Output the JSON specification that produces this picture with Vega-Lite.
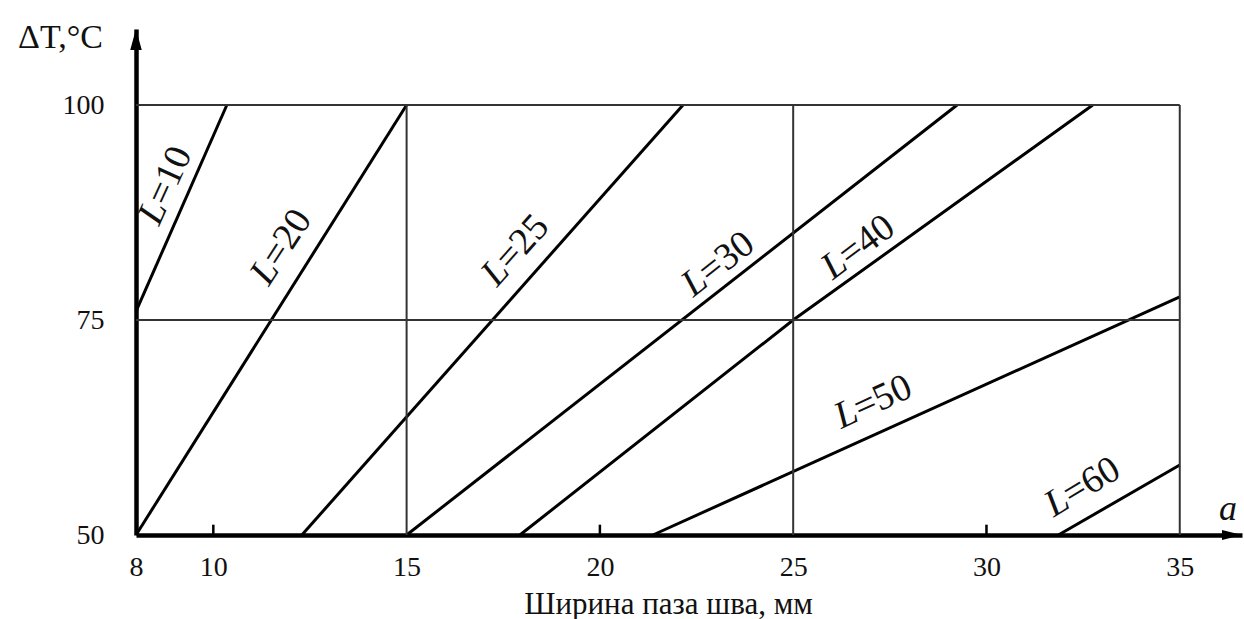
{
  "$schema": "https://vega.github.io/schema/vega-lite/v6.json",
  "width": 1106,
  "height": 506,
  "autosize": "none",
  "padding": {"left": 136, "top": 29, "right": 2, "bottom": 84},
  "background": "white",
  "config": {"view": {"stroke": null}, "font": "Liberation Serif"},
  "datasets": {
    "curves": [
      {"L": 10, "a": 8, "dT": 76},
      {"L": 10, "a": 10.35, "dT": 100},
      {"L": 20, "a": 8, "dT": 50},
      {"L": 20, "a": 15, "dT": 100},
      {"L": 25, "a": 12.29, "dT": 50},
      {"L": 25, "a": 22.15, "dT": 100},
      {"L": 30, "a": 15, "dT": 50},
      {"L": 30, "a": 29.24, "dT": 100},
      {"L": 40, "a": 17.93, "dT": 50},
      {"L": 40, "a": 25, "dT": 75},
      {"L": 40, "a": 32.75, "dT": 100},
      {"L": 50, "a": 21.37, "dT": 50},
      {"L": 50, "a": 35, "dT": 77.7},
      {"L": 60, "a": 31.86, "dT": 50},
      {"L": 60, "a": 35, "dT": 58.14}
    ],
    "labels": [
      {"L": 10, "a": 8.56, "dT": 88.6, "tail": "=10"},
      {"L": 20, "a": 11.49, "dT": 81.6, "tail": "=20"},
      {"L": 25, "a": 17.49, "dT": 81.4, "tail": "=25"},
      {"L": 30, "a": 22.67, "dT": 80.1, "tail": "=30"},
      {"L": 40, "a": 26.29, "dT": 82.1, "tail": "=40"},
      {"L": 50, "a": 26.62, "dT": 64.5, "tail": "=50"},
      {"L": 60, "a": 32.06, "dT": 54.4, "tail": "=60"}
    ],
    "hgrid": [{"dT": 75}, {"dT": 100}],
    "vgrid": [{"a": 15}, {"a": 25}, {"a": 35}],
    "ticks": [{"a": 10}, {"a": 20}, {"a": 30}],
    "arrowY": [{"a": 8, "dT": 108.84}],
    "arrowX": [{"a": 36.61, "dT": 50}],
    "axisName": [{"a": 36.25, "dT": 51.74, "name": "a"}]
  },
  "layer": [
    {
      "data": {"name": "curves"},
      "mark": {"type": "line", "color": "black", "strokeWidth": 3},
      "encoding": {
        "x": {
          "field": "a", "type": "quantitative",
          "scale": {"domain": [8, 36.61], "nice": false, "zero": false},
          "axis": {
            "values": [8, 10, 15, 20, 25, 30, 35],
            "ticks": false, "grid": false,
            "domain": true, "domainColor": "black", "domainWidth": 4.5,
            "labelFont": "Liberation Serif", "labelFontSize": 28, "labelColor": "#111111",
            "labelPadding": 18, "labelFlush": false, "labelOverlap": false,
            "title": "Ширина паза шва, мм",
            "titleFont": "Liberation Serif", "titleFontSize": 31, "titleFontWeight": "normal", "titleColor": "#111111",
            "titleX": 532, "titleY": 78, "titleBaseline": "alphabetic", "titleAlign": "center"
          }
        },
        "y": {
          "field": "dT", "type": "quantitative",
          "scale": {"domain": [50, 108.84], "nice": false, "zero": false},
          "axis": {
            "values": [50, 75, 100],
            "ticks": false, "grid": false,
            "domain": true, "domainColor": "black", "domainWidth": 4.5,
            "labelFont": "Liberation Serif", "labelFontSize": 28, "labelColor": "#111111",
            "labelPadding": 32, "labelOverlap": false, "labelFlush": false,
            "title": "ΔT,°C",
            "titleFont": "Liberation Serif", "titleFontSize": 34, "titleFontWeight": "normal", "titleColor": "#111111",
            "titleAngle": 0, "titleX": -76, "titleY": 18, "titleBaseline": "alphabetic", "titleAlign": "center"
          }
        },
        "detail": {"field": "L", "type": "nominal"}
      }
    },
    {
      "data": {"name": "hgrid"},
      "mark": {"type": "rule", "color": "#333333", "strokeWidth": 2},
      "encoding": {
        "x": {"datum": 8, "type": "quantitative"},
        "x2": {"datum": 35},
        "y": {"field": "dT", "type": "quantitative"}
      }
    },
    {
      "data": {"name": "vgrid"},
      "mark": {"type": "rule", "color": "#333333", "strokeWidth": 2},
      "encoding": {
        "x": {"field": "a", "type": "quantitative"},
        "y": {"datum": 50, "type": "quantitative"},
        "y2": {"datum": 100}
      }
    },
    {
      "data": {"name": "ticks"},
      "mark": {"type": "rule", "color": "black", "strokeWidth": 2.5},
      "encoding": {
        "x": {"field": "a", "type": "quantitative"},
        "y": {"datum": 50, "type": "quantitative"},
        "y2": {"datum": 51.2}
      }
    },
    {
      "data": {"name": "labels"},
      "mark": {"type": "text", "font": "Liberation Serif", "fontStyle": "italic", "fontSize": 38, "align": "right", "baseline": "middle", "color": "#111111"},
      "encoding": {
        "x": {"field": "a", "type": "quantitative"},
        "y": {"field": "dT", "type": "quantitative"},
        "text": {"value": "L"},
        "angle": {"field": "L", "type": "quantitative", "scale": {"domain": [10, 20, 25, 30, 40, 50, 60], "range": [-65.5, -57, -48.5, -38, -37, -24.6, -31], "zero": false}, "legend": null}
      }
    },
    {
      "data": {"name": "labels"},
      "mark": {"type": "text", "font": "Liberation Serif", "fontSize": 38, "align": "left", "baseline": "middle", "color": "#111111"},
      "encoding": {
        "x": {"field": "a", "type": "quantitative"},
        "y": {"field": "dT", "type": "quantitative"},
        "text": {"field": "tail"},
        "angle": {"field": "L", "type": "quantitative", "scale": {"domain": [10, 20, 25, 30, 40, 50, 60], "range": [-65.5, -57, -48.5, -38, -37, -24.6, -31], "zero": false}, "legend": null}
      }
    },
    {
      "data": {"name": "arrowY"},
      "mark": {"type": "point", "shape": "M0,0L-0.55,2L0.55,2Z", "filled": true, "color": "black", "opacity": 1, "size": 441, "strokeWidth": 0},
      "encoding": {
        "x": {"field": "a", "type": "quantitative"},
        "y": {"field": "dT", "type": "quantitative"}
      }
    },
    {
      "data": {"name": "arrowX"},
      "mark": {"type": "point", "shape": "M0,0L-2,-0.5L-2,0.5Z", "filled": true, "color": "black", "opacity": 1, "size": 400, "strokeWidth": 0},
      "encoding": {
        "x": {"field": "a", "type": "quantitative"},
        "y": {"field": "dT", "type": "quantitative"}
      }
    },
    {
      "data": {"name": "axisName"},
      "mark": {"type": "text", "font": "Liberation Serif", "fontStyle": "italic", "fontSize": 36, "align": "center", "baseline": "alphabetic", "color": "#111111"},
      "encoding": {
        "x": {"field": "a", "type": "quantitative"},
        "y": {"field": "dT", "type": "quantitative"},
        "text": {"field": "name"}
      }
    }
  ]
}
